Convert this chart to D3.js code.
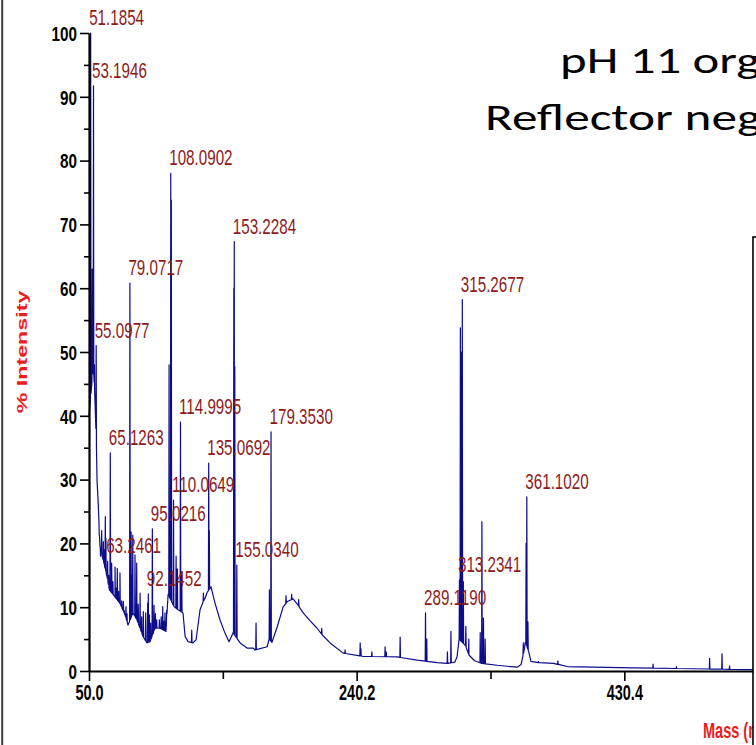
<!DOCTYPE html>
<html><head><meta charset="utf-8">
<script src="https://cdn.jsdelivr.net/npm/d3@7"></script>
<style>html,body{margin:0;padding:0;background:#fff;overflow:hidden}</style>
</head><body><svg id="c" width="756" height="745"></svg>
<script>
// ---------- data ----------
const titleLines = ["pH 11 org", "Reflector neg"];
const xLabel = "Mass (m/z)";
const yLabel = "% Intensity";
const xMajorTicks = [50.0, 240.2, 430.4];
const xMinorTicks = [145.1, 335.3, 525.5];
const yMajorTicks = [0, 10, 20, 30, 40, 50, 60, 70, 80, 90, 100];
const yMinorTicks = [5, 15, 25, 35, 45, 55, 65, 75, 85, 95];

// lower envelope (baseline) of the spectrum
const baselineMz  = [50.0, 52.0, 53.0, 54.0, 54.6, 55.3, 55.7, 56.6, 57.8, 60.0, 62.8, 64.5, 68.5, 72.0, 75.6, 77.7, 81.3, 84.1, 88.4, 91.2, 93.4, 96.9, 100.5, 104.7, 106.2, 110.4, 113.3, 116.8, 118.3, 120.4, 123.9, 126.1, 128.9, 131.0, 132.5, 133.9, 136.7, 139.6, 143.1, 146.7, 149.5, 151.0, 152.4, 155.5, 157.4, 162.3, 166.6, 168.0, 176.6, 178.0, 180.0, 183.7, 187.9, 191.0, 195.0, 198.0, 202.2, 207.0, 212.1, 216.0, 221.3, 230.6, 244.8, 269.0, 283.2, 297.4, 305.0, 310.0, 311.5, 313.0, 317.5, 320.0, 324.0, 329.0, 340.1, 354.3, 357.0, 359.0, 360.0, 362.5, 364.0, 370.0, 380.0, 389.9, 436.8, 522.1, 620.6];
const baselineInt = [40, 45, 48, 44, 40, 35, 30, 26, 19.5, 17.4, 14.8, 12.7, 11.6, 10.6, 8.8, 7.2, 9.1, 8.0, 5.4, 4.4, 4.6, 6.7, 6.7, 6.2, 12.0, 10.1, 9.6, 9.1, 5.4, 4.6, 4.4, 4.9, 9.6, 10.8, 11.4, 12.3, 13.2, 10.6, 8.0, 5.9, 4.6, 5.3, 6.0, 5.0, 4.4, 3.6, 3.6, 3.3, 3.8, 5.0, 4.5, 6.9, 10.0, 10.9, 11.3, 10.5, 9.1, 7.9, 6.7, 5.6, 4.4, 2.8, 2.3, 2.2, 1.7, 1.3, 1.2, 1.4, 2.2, 5.0, 4.0, 2.5, 1.6, 1.2, 0.9, 0.6, 1.0, 3.0, 4.5, 3.0, 1.5, 1.3, 1.2, 0.7, 0.5, 0.2, 0.1];

// unlabelled peaks
const peakMz  = [52.3, 53.9, 57.3, 58.2, 59.0, 60.2, 60.8, 61.6, 62.0, 64.0, 66.1, 67.0, 68.5, 69.3, 70.1, 71.0, 72.0, 73.2, 74.4, 75.0, 76.3, 77.0, 79.9, 80.5, 81.1, 82.7, 83.9, 85.0, 86.3, 87.4, 88.6, 90.3, 91.7, 92.9, 93.8, 96.2, 97.2, 98.1, 100.0, 101.3, 102.4, 103.2, 104.0, 105.2, 106.9, 108.5, 111.9, 112.8, 115.9, 123.0, 131.3, 135.5, 152.9, 153.6, 168.7, 178.2, 190.0, 194.0, 199.0, 215.4, 232.0, 242.7, 243.2, 251.0, 260.4, 261.2, 271.1, 290.0, 304.7, 307.2, 313.9, 314.6, 316.0, 317.8, 319.9, 328.0, 329.2, 330.3, 331.5, 358.6, 360.6, 361.9, 369.4, 383.2, 450.8, 467.4, 491.0, 499.8, 505.2];
const peakInt = [63, 48, 21.3, 18, 22, 20.3, 19, 24.2, 20.8, 15, 16.9, 14, 16.3, 13, 16.1, 12.5, 15.4, 11, 10.9, 9.5, 10.1, 9, 21.8, 15, 21.3, 18.2, 16.9, 10.5, 12.2, 8.5, 9.3, 9.1, 10.7, 8.8, 7.5, 10.3, 9, 8.0, 8, 8.5, 10.1, 7.8, 9.1, 9.5, 48, 73.8, 18, 16, 15.4, 6.4, 12.2, 22, 60, 47.7, 7.5, 12.7, 11.8, 12.0, 11.2, 6.7, 3.3, 4.4, 3.5, 3.0, 3.8, 3.0, 5.3, 5.0, 3.0, 6.2, 53.8, 50, 14, 7, 5, 6, 23.4, 8.3, 5, 4.4, 20, 7.7, 1.5, 1.6, 1.1, 0.7, 2.0, 2.7, 0.8];

// labelled peaks
const labeledMz   = [51.1854, 53.1946, 55.0977, 63.2461, 65.1263, 79.0717, 92.1452, 95.0216, 108.0902, 110.0649, 114.9995, 135.0692, 153.2284, 155.0340, 179.3530, 289.1190, 313.2341, 315.2677, 361.1020];
const labeledInt  = [100, 91.7, 51, 17.2, 34.2, 60.8, 12.1, 22.3, 78, 26.8, 39, 32.6, 67.3, 16.6, 37.5, 9.1, 14.3, 58.2, 27.3];
const labeledText = ["51.1854", "53.1946", "55.0977", "63.2461", "65.1263", "79.0717", "92.1452", "95.0216", "108.0902", "110.0649", "114.9995", "135.0692", "153.2284", "155.0340", "179.3530", "289.1190", "313.2341", "315.2677", "361.1020"];

// ---------- drawing ----------
const svg = d3.select("#c");
const W = 756, H = 745;
const x = d3.scaleLinear().domain([50.0, 620.6]).range([89, 892]);
const y = d3.scaleLinear().domain([0, 100]).range([671, 33]);
const baseScale = d3.scaleLinear().domain(baselineMz).range(baselineInt).clamp(true);

const NAVY = "#0c0c8c", DARKRED = "#8e1b1b", RED = "#ee1c1c";
const NARROW = "'Liberation Sans', Arial, sans-serif";

function squeeze(sel, ratio) {
  sel.each(function () {
    const L = this.getComputedTextLength();
    this.setAttribute("textLength", (L * ratio).toFixed(2));
    this.setAttribute("lengthAdjust", "spacingAndGlyphs");
  });
}

svg.append("rect").attr("width", W).attr("height", H).attr("fill", "#fff");

// left slide border
svg.append("line").attr("x1", 2.2).attr("x2", 2.2).attr("y1", 0).attr("y2", H)
  .attr("stroke", "#3c3c3c").attr("stroke-width", 2);

// spectrum
const pts = baselineMz.map((m, i) => [m, baselineInt[i]]);
const allPeaks = peakMz.map((m, i) => [m, peakInt[i]])
  .concat(labeledMz.map((m, i) => [m, labeledInt[i]]));
allPeaks.forEach(([m, h]) => {
  pts.push([m - 0.22, baseScale(m - 0.22)]);
  pts.push([m, h]);
  pts.push([m + 0.22, baseScale(m + 0.22)]);
});
pts.sort((a, b) => a[0] - b[0]);
svg.append("path")
  .datum(pts)
  .attr("fill", "none")
  .attr("stroke", NAVY)
  .attr("stroke-width", 1.2)
  .attr("stroke-linejoin", "round")
  .attr("d", d3.line().x(d => x(d[0])).y(d => y(d[1])));

// y axis
const gy = svg.append("g").attr("transform", "translate(89,0)")
  .call(d3.axisLeft(y).tickValues(yMajorTicks).tickSize(9).tickSizeOuter(0).tickPadding(3).tickFormat(d3.format("d")));
gy.select(".domain").attr("stroke", "#000").attr("stroke-width", 2.2);
gy.selectAll(".tick line").attr("stroke", "#000").attr("stroke-width", 1.6);
gy.selectAll(".tick text")
  .attr("dy", 7.3)
  .attr("fill", "#000")
  .style("font-family", NARROW).style("font-weight", "bold").style("font-size", "19.5px")
  .call(squeeze, 0.78);
svg.append("g").attr("transform", "translate(89,0)")
  .call(d3.axisLeft(y).tickValues(yMinorTicks).tickSize(5).tickFormat(""))
  .call(g => g.select(".domain").remove())
  .selectAll(".tick line").attr("stroke", "#000").attr("stroke-width", 1.6);

// x axis
const gx = svg.append("g").attr("transform", "translate(0,671)")
  .call(d3.axisBottom(x).tickValues(xMajorTicks).tickSize(10).tickSizeOuter(0).tickFormat(d3.format(".1f")));
gx.select(".domain").attr("stroke", "#000").attr("stroke-width", 2.2);
gx.selectAll(".tick line").attr("stroke", "#000").attr("stroke-width", 1.6);
gx.selectAll(".tick text")
  .attr("y", 29).attr("dy", 0)
  .attr("fill", "#000")
  .style("font-family", NARROW).style("font-weight", "bold").style("font-size", "21.6px")
  .call(squeeze, 0.67);
svg.append("g").attr("transform", "translate(0,671)")
  .call(d3.axisBottom(x).tickValues(xMinorTicks).tickSize(8).tickFormat(""))
  .call(g => g.select(".domain").remove())
  .selectAll(".tick line").attr("stroke", "#000").attr("stroke-width", 1.6);

// peak labels
svg.append("g").selectAll("text")
  .data(labeledMz.map((m, i) => ({ m, h: labeledInt[i], t: labeledText[i] })))
  .join("text")
  .attr("x", d => x(d.m) - 1.5)
  .attr("y", d => y(d.h) - 8)
  .attr("fill", DARKRED)
  .style("font-family", NARROW).style("font-size", "22px")
  .text(d => d.t)
  .call(squeeze, 0.69);

// axis titles
svg.append("text")
  .attr("transform", "translate(27,352) rotate(-90)")
  .attr("text-anchor", "middle")
  .attr("fill", RED)
  .style("font-family", NARROW).style("font-weight", "bold").style("font-size", "15px")
  .text(yLabel)
  .call(squeeze, 1.55);
svg.append("text")
  .attr("x", 703).attr("y", 738)
  .attr("fill", RED)
  .style("font-family", NARROW).style("font-weight", "bold").style("font-size", "22px")
  .text(xLabel)
  .call(squeeze, 0.66);

// overlapping slide box on the right
svg.append("rect").attr("x", 753).attr("y", 237).attr("width", 30).attr("height", 600)
  .attr("fill", "#fff").attr("stroke", "#000").attr("stroke-width", 1.6);

// slide title (scaled so that the glyph starts match the reference)
const TFONT = "Carlito, Lato, 'Open Sans', sans-serif";
const titlePos = [[560, 73, 177, "pH 11 or"], [485, 130, 252, "Reflector ne"]];
titlePos.forEach(([tx, ty, target, probe], i) => {
  const tmp = svg.append("text").style("font-family", TFONT).style("font-size", "37px").text(probe);
  const w = tmp.node().getComputedTextLength();
  tmp.remove();
  const s = target / w;
  svg.append("text")
    .attr("transform", `translate(${tx},${ty}) scale(${s.toFixed(4)},1)`)
    .attr("fill", "#000")
    .style("font-family", TFONT).style("font-size", "37px")
    .text(titleLines[i]);
});
</script>
</body></html>
